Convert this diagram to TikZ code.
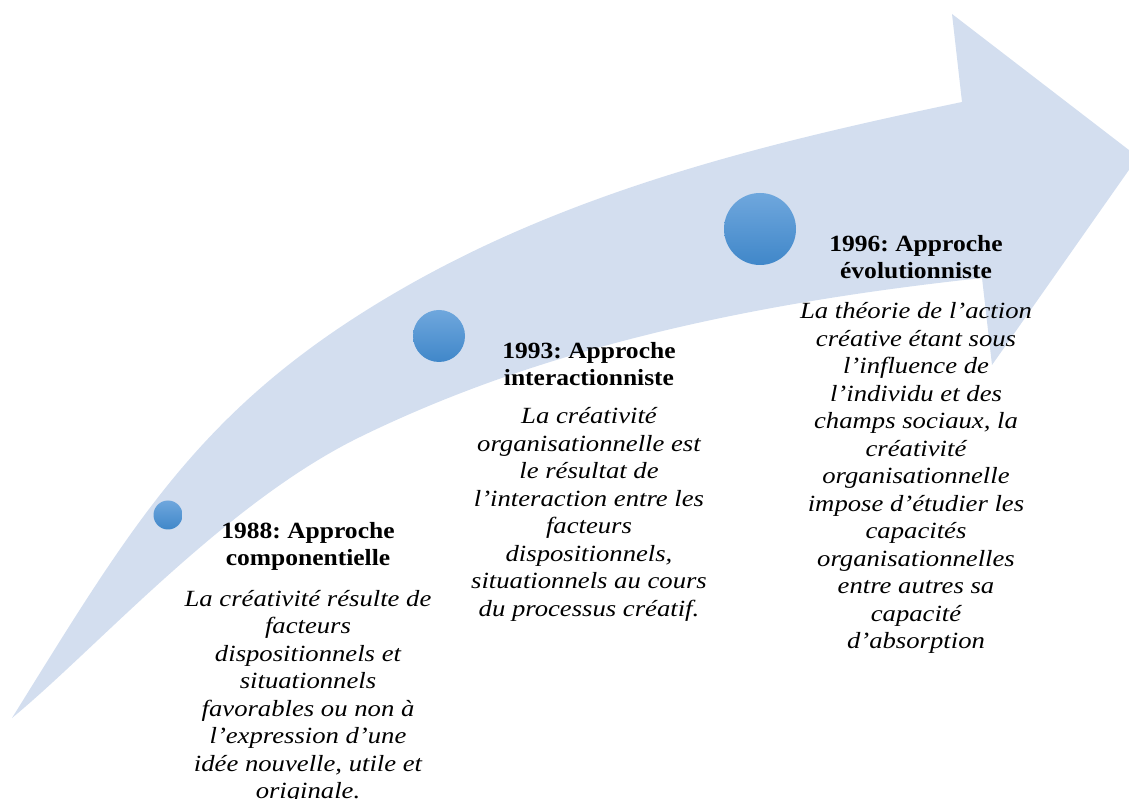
\documentclass[tikz,border=0pt]{standalone}
\usepackage{fontspec}
\setmainfont{Liberation Serif}
\newfontfamily\titlefont{Liberation Serif}[FakeStretch=1.1]
\newfontfamily\bodyfont{Liberation Serif}[FakeStretch=1.15]
\frenchspacing
\usetikzlibrary{positioning}
\definecolor{bandblue}{RGB}{211,222,239}
\definecolor{dottop}{RGB}{111,167,221}
\definecolor{dotbottom}{RGB}{64,135,201}

\begin{document}
\begin{tikzpicture}[x=1pt,y=1pt,
    band/.style={fill=bandblue},
    dot/.style={circle, inner sep=0pt, top color=dottop, bottom color=dotbottom},
    stagetitle/.style={anchor=north, align=center, inner sep=0pt,
      font=\titlefont\fontsize{23.2}{27.5}\selectfont\bfseries},
    stagetext/.style={align=center, inner sep=0pt,
      font=\bodyfont\fontsize{23.2}{27.5}\selectfont\itshape}]
  \useasboundingbox (0,0) rectangle (1129,798);
  \clip (0,0) rectangle (1129,798);

  % Curved arrow
  \fill[band] (12,80) .. controls (134,276) and (201,393) .. (400,508)
    .. controls (573,608) and (766,655) .. (962,696)
    -- (952,784) -- (1138,641) -- (992,433) -- (982,520)
    .. controls (769,497) and (552,455) .. (360,361)
    .. controls (225,295) and (97,150) .. (12,80) -- cycle;

  % Milestones
  \node[dot, minimum size=29pt] (dot88) at (168,283) {};
  \node[dot, minimum size=52pt] (dot93) at (439,462) {};
  \node[dot, minimum size=72pt] (dot96) at (760,569) {};

  \node[stagetitle] (title88) at (308,276) {1988: Approche\\componentielle};
  \node[stagetext, below=19pt of title88] (text88) {La créativité résulte de\\facteurs\\dispositionnels et\\situationnels\\favorables ou non à\\l’expression d’une\\idée nouvelle, utile et\\originale.};

  \node[stagetitle] (title93) at (589,456) {1993: Approche\\interactionniste};
  \node[stagetext, below=21pt of title93] (text93) {La créativité\\organisationnelle est\\le résultat de\\l’interaction entre les\\facteurs\\dispositionnels,\\situationnels au cours\\du processus créatif.};

  \node[stagetitle] (title96) at (916,563) {1996: Approche\\évolutionniste};
  \node[stagetext, below=23pt of title96] (text96) {La théorie de l’action\\créative étant sous\\l’influence de\\l’individu et des\\champs sociaux, la\\créativité\\organisationnelle\\impose d’étudier les\\capacités\\organisationnelles\\entre autres sa\\capacité\\d’absorption};
\end{tikzpicture}
\end{document}
